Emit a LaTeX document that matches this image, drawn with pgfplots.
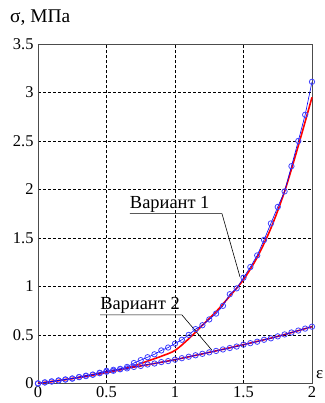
\documentclass[border=0pt]{standalone}
\usepackage{pgfplots}
\pgfplotsset{compat=1.18}
\usepackage{fontspec}
\setmainfont{Liberation Serif}
\begin{document}
\begin{tikzpicture}
\useasboundingbox (-38bp,-19.6bp) rectangle (287bp,383.4bp);
\begin{axis}[
  at={(0,0)}, anchor=south west,
  scale only axis, width=274bp, height=339.4bp,
  xmin=0, xmax=2, ymin=0, ymax=3.5,
  xtick={0,0.5,1,1.5,2}, ytick={0,0.5,...,3.5},
  xticklabels={0,0.5,1,1.5,2},
  yticklabels={0,0.5,1,1.5,2,2.5,3,3.5},
  /pgf/number format/assume math mode=true,
  major tick length=0pt,
  grid=major,
  grid style={black, dash pattern=on 3bp off 2bp, line width=0.7pt},
  axis line style={black!70, line width=0.8pt},
  tick label style={font=\fontsize{16.5}{16.5}\selectfont, black},
  xticklabel style={yshift=0bp},
  yticklabel style={xshift=-1bp},
  clip=false,
]
% Variant 1 fit (red)
\addplot[red, line width=1.6pt, smooth] coordinates {
(0,0) (0.1,0.02) (0.2,0.04) (0.3,0.06) (0.4,0.085) (0.5,0.11) (0.6,0.14)
(0.7,0.18) (0.8,0.23) (0.9,0.28) (1.0,0.34) (1.1,0.46) (1.2,0.6) (1.3,0.74)
(1.4,0.9) (1.5,1.07) (1.6,1.3) (1.7,1.6) (1.8,1.98) (1.9,2.45) (2.0,2.95)};
% Variant 2 fit (red)
\addplot[red, line width=1.6pt, smooth] coordinates {
(0,0) (0.25,0.05) (0.5,0.12) (0.75,0.18) (1.0,0.245) (1.25,0.32)
(1.5,0.40) (1.75,0.485) (2.0,0.585)};
% Variant 1 data (blue)
\addplot[blue, line width=0.6pt, mark=o, mark size=2.7pt,
  mark options={draw=blue!75, fill=blue!30, fill opacity=0.35, line width=0.8pt}] coordinates {
(0,0) (0.05,0.01) (0.1,0.02) (0.15,0.03) (0.2,0.04) (0.25,0.05) (0.3,0.065)
(0.35,0.075) (0.4,0.09) (0.45,0.11) (0.5,0.13) (0.55,0.14) (0.6,0.15)
(0.65,0.17) (0.7,0.21) (0.75,0.24) (0.8,0.27) (0.85,0.30) (0.9,0.34)
(0.95,0.37) (1.0,0.41) (1.05,0.45) (1.1,0.50) (1.15,0.56) (1.2,0.60)
(1.25,0.66) (1.3,0.72) (1.35,0.80) (1.4,0.92) (1.45,0.98) (1.5,1.09)
(1.55,1.2) (1.6,1.32) (1.65,1.48) (1.7,1.65) (1.75,1.82) (1.8,1.98)
(1.85,2.24) (1.9,2.5) (1.95,2.77) (2.0,3.11)};
% Variant 2 data (blue)
\addplot[blue, line width=0.6pt, mark=o, mark size=2.7pt,
  mark options={draw=blue!75, fill=blue!30, fill opacity=0.35, line width=0.8pt}] coordinates {
(0,0) (0.05,0.01) (0.1,0.02) (0.15,0.03) (0.2,0.04) (0.25,0.05) (0.3,0.065)
(0.35,0.08) (0.4,0.09) (0.45,0.105) (0.5,0.12) (0.55,0.13) (0.6,0.145)
(0.65,0.155) (0.7,0.17) (0.75,0.18) (0.8,0.195) (0.85,0.205) (0.9,0.22)
(0.95,0.23) (1.0,0.245) (1.05,0.26) (1.1,0.275) (1.15,0.29) (1.2,0.305)
(1.25,0.32) (1.3,0.335) (1.35,0.35) (1.4,0.365) (1.45,0.38) (1.5,0.40)
(1.55,0.415) (1.6,0.43) (1.65,0.45) (1.7,0.465) (1.75,0.485) (1.8,0.505)
(1.85,0.525) (1.9,0.545) (1.95,0.565) (2.0,0.585)};
% annotations
\draw[black, line width=0.6pt] (axis cs:0.67,1.75) -- (axis cs:1.343,1.75) -- (axis cs:1.474,1.10);
\node[anchor=base west, inner sep=0pt, font=\fontsize{18.5}{18.5}\selectfont] at (axis cs:0.67,1.80) {Вариант 1};
\draw[black, line width=0.6pt] (axis cs:0.453,0.707) -- (axis cs:1.05,0.707) -- (axis cs:1.268,0.345);
\node[anchor=base west, inner sep=0pt, font=\fontsize{18.5}{18.5}\selectfont] at (axis cs:0.453,0.757) {Вариант 2};
\end{axis}
\node[anchor=base west, inner sep=0pt, font=\fontsize{19.5}{19.5}\selectfont] at (-28bp,361bp) {σ, МПа};
\node[anchor=base west, inner sep=0pt, font=\fontsize{17}{17}\selectfont] at (278bp,5bp) {ε};
\end{tikzpicture}
\end{document}
